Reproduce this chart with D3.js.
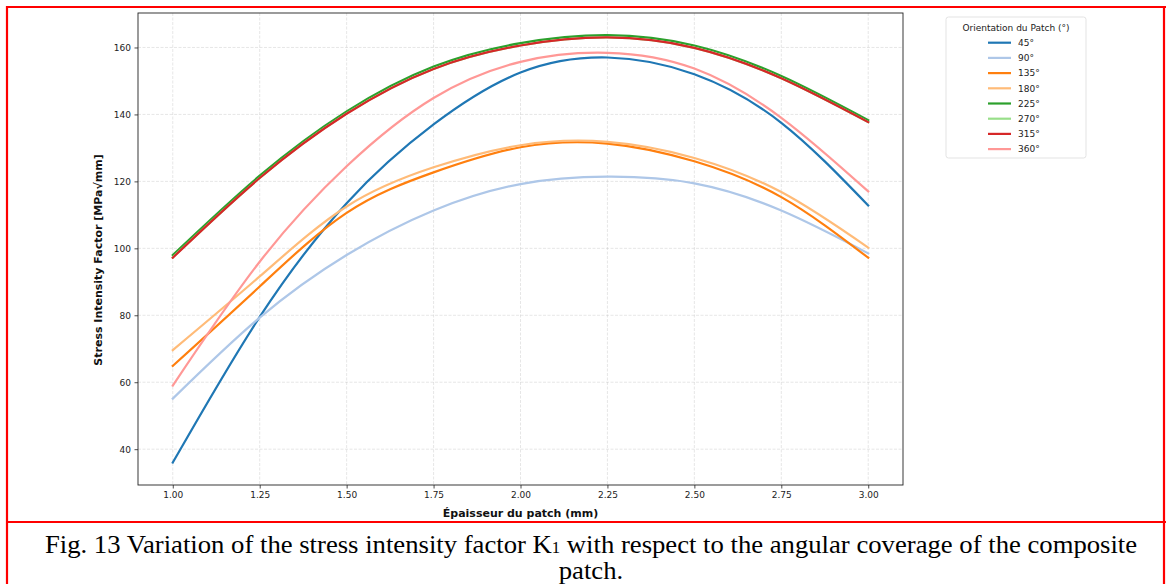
<!DOCTYPE html>
<html>
<head>
<meta charset="utf-8">
<script src="https://cdn.jsdelivr.net/npm/d3@7"></script>
<style>
  html, body { margin: 0; padding: 0; background: #fff; }
  svg { display: block; }
</style>
</head>
<body>
<svg id="chart" width="1166" height="584"></svg>
<script>
// ---- data ----
const thickness = [1.00, 1.25, 1.50, 1.75, 2.00, 2.25, 2.50, 2.75, 3.00];
const orientations = ["45°", "90°", "135°", "180°", "225°", "270°", "315°", "360°"];
const k45  = [36.0, 79.5, 113.5, 137.0, 152.5, 157.0, 152.0, 137.5, 112.8];
const k90  = [55.1, 79.3, 98.0, 111.3, 119.2, 121.4, 119.4, 111.3, 98.5];
const k135 = [64.9, 88.6, 110.6, 122.7, 130.2, 131.3, 126.0, 115.3, 97.2];
const k180 = [69.6, 91.6, 112.5, 124.2, 130.8, 131.8, 127.0, 116.8, 100.2];
const k225 = [98.0, 121.7, 140.9, 154.3, 161.3, 163.7, 160.6, 151.5, 138.3];
const k270 = [97.3, 121.0, 140.3, 153.6, 160.6, 163.0, 159.9, 150.8, 137.7];
const k315 = [97.2, 121.0, 140.2, 153.6, 160.6, 163.0, 159.9, 150.8, 137.7];
const k360 = [59.0, 96.0, 124.5, 144.9, 155.7, 158.4, 153.7, 139.0, 117.0];
const seriesValues = [k45, k90, k135, k180, k225, k270, k315, k360];
const colors = ["#1f77b4", "#aec7e8", "#ff7f0e", "#ffbb78", "#2ca02c", "#98df8a", "#d62728", "#ff9896"];
const xTicks = [1.00, 1.25, 1.50, 1.75, 2.00, 2.25, 2.50, 2.75, 3.00];
const yTicks = [40, 60, 80, 100, 120, 140, 160];

// ---- layout ----
const svg = d3.select("#chart");
const plot = { left: 138, right: 903, top: 13, bottom: 485 };
const x = d3.scaleLinear().domain([0.9, 3.1]).range([plot.left, plot.right]);
const y = d3.scaleLinear().domain([29.3, 170.3]).range([plot.bottom, plot.top]);
const font = "DejaVu Sans, sans-serif";

// grid
const grid = svg.append("g");
grid.selectAll("line.vx").data(xTicks).join("line")
  .attr("x1", d => x(d)).attr("x2", d => x(d))
  .attr("y1", plot.top).attr("y2", plot.bottom)
  .attr("stroke", "#b0b0b0").attr("stroke-opacity", 0.4)
  .attr("stroke-width", 0.8).attr("stroke-dasharray", "3,1.5");
grid.selectAll("line.hy").data(yTicks).join("line")
  .attr("y1", d => y(d)).attr("y2", d => y(d))
  .attr("x1", plot.left).attr("x2", plot.right)
  .attr("stroke", "#b0b0b0").attr("stroke-opacity", 0.4)
  .attr("stroke-width", 0.8).attr("stroke-dasharray", "3,1.5");

// lines
const line = d3.line()
  .x((d, i) => x(thickness[i]))
  .y(d => y(d))
  .curve(d3.curveNatural);
svg.append("g").selectAll("path").data(seriesValues).join("path")
  .attr("d", d => line(d))
  .attr("fill", "none")
  .attr("stroke", (d, i) => colors[i])
  .attr("stroke-width", 2.2)
  .attr("stroke-linecap", "square");

// axes
const xAxis = d3.axisBottom(x).tickValues(xTicks).tickFormat(d3.format(".2f")).tickSize(3.5).tickPadding(3.5);
const yAxis = d3.axisLeft(y).tickValues(yTicks).tickFormat(d3.format("d")).tickSize(3.5).tickPadding(3.5);
const gx = svg.append("g").attr("transform", `translate(0,${plot.bottom})`).call(xAxis);
const gy = svg.append("g").attr("transform", `translate(${plot.left},0)`).call(yAxis);
[gx, gy].forEach(g => {
  g.select(".domain").remove();
  g.selectAll(".tick line").attr("stroke", "#222").attr("stroke-width", 0.8);
  g.selectAll(".tick text").attr("fill", "#222").style("font-family", font).style("font-size", "9px");
});

// frame
svg.append("rect")
  .attr("x", plot.left).attr("y", plot.top)
  .attr("width", plot.right - plot.left).attr("height", plot.bottom - plot.top)
  .attr("fill", "none").attr("stroke", "#222").attr("stroke-width", 0.9);

// axis labels
svg.append("text")
  .attr("x", (plot.left + plot.right) / 2).attr("y", 517)
  .attr("text-anchor", "middle")
  .style("font-family", font).style("font-size", "11px").style("font-weight", "bold")
  .attr("fill", "#111")
  .text("Épaisseur du patch (mm)");
svg.append("text")
  .attr("transform", `translate(102,${(plot.top + plot.bottom) / 2 + 11}) rotate(-90)`)
  .attr("text-anchor", "middle")
  .style("font-family", font).style("font-size", "11px").style("font-weight", "bold")
  .attr("fill", "#111")
  .text("Stress Intensity Factor [MPa√mm]");

// legend
const lg = svg.append("g");
lg.append("rect")
  .attr("x", 946).attr("y", 17).attr("width", 140).attr("height", 141)
  .attr("rx", 2.5).attr("fill", "#fff").attr("stroke", "#dcdcdc").attr("stroke-width", 0.8);
lg.append("text")
  .attr("x", 1016).attr("y", 30.5).attr("text-anchor", "middle")
  .style("font-family", font).style("font-size", "9px").attr("fill", "#222")
  .text("Orientation du Patch (°)");
const items = lg.selectAll("g.item").data(orientations).join("g")
  .attr("transform", (d, i) => `translate(0,${42.7 + i * 15.2})`);
items.append("line")
  .attr("x1", 988).attr("x2", 1011).attr("y1", 0).attr("y2", 0)
  .attr("stroke", (d, i) => colors[i]).attr("stroke-width", 2.2);
items.append("text")
  .attr("x", 1018).attr("y", 3.2)
  .style("font-family", font).style("font-size", "9px").attr("fill", "#222")
  .text(d => d);

// red borders
const red = svg.append("g").attr("stroke", "#ff0000").attr("stroke-width", 2.2);
red.append("line").attr("x1", 7).attr("x2", 1166).attr("y1", 7).attr("y2", 7);
red.append("line").attr("x1", 7).attr("x2", 7).attr("y1", 6).attr("y2", 584);
red.append("line").attr("x1", 1164).attr("x2", 1164).attr("y1", 6).attr("y2", 584);
red.append("line").attr("x1", 7).attr("x2", 1166).attr("y1", 522).attr("y2", 522);

// caption (horizontally fitted to the width seen in the reference)
const serif = "Liberation Serif, Times New Roman, serif";
const capG = svg.append("g");
const cap = capG.append("text")
  .attr("x", 0).attr("y", 0).attr("text-anchor", "middle")
  .style("font-family", serif).style("font-size", "24px")
  .attr("fill", "#000");
cap.append("tspan").text("Fig. 13 Variation of the stress intensity factor K");
cap.append("tspan").style("font-size", "15px").text("1");
cap.append("tspan").text(" with respect to the angular coverage of the composite");
const capW = cap.node().getComputedTextLength();
const sx = capW > 0 ? 1093 / capW : 1;
capG.attr("transform", `translate(591,553) scale(${sx},1.05)`);
svg.append("text")
  .attr("x", 0).attr("y", 0).attr("text-anchor", "middle")
  .attr("transform", `translate(591,579) scale(${sx},1.05)`)
  .style("font-family", serif).style("font-size", "24px")
  .attr("fill", "#000")
  .text("patch.");
</script>
</body>
</html>
